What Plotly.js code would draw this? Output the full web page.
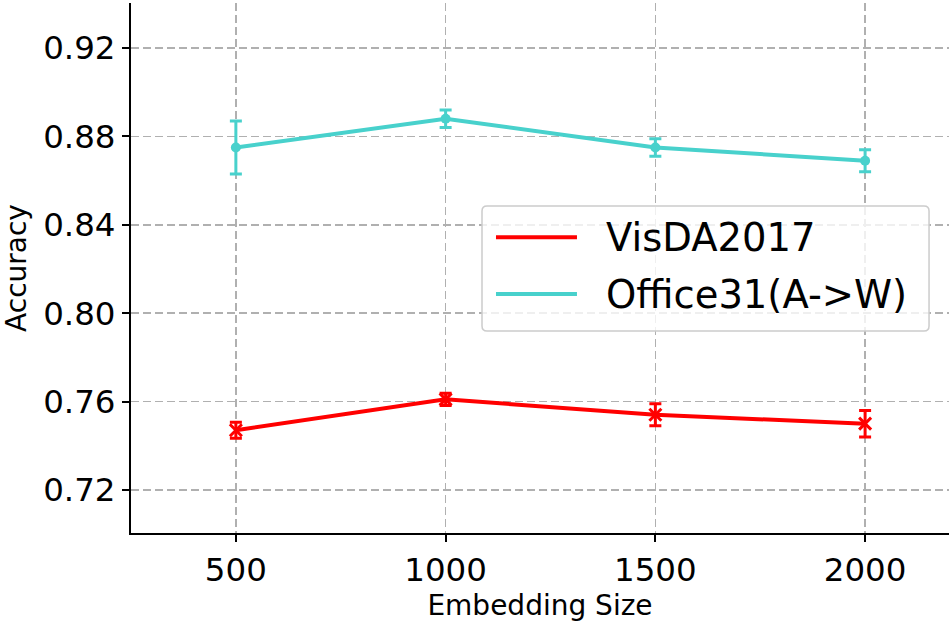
<!DOCTYPE html>
<html>
<head>
<meta charset="utf-8">
<script src="https://cdn.plot.ly/plotly-3.0.1.min.js"></script>
<style>html,body{margin:0;padding:0;background:#fff;}#chart{width:952px;height:622px;}</style>
</head>
<body>
<div id="chart"></div>
<script>
const embeddingSizes = [500, 1000, 1500, 2000];
const visdaAcc = [0.747, 0.761, 0.754, 0.750];
const visdaErr = [0.0036, 0.0028, 0.005, 0.006];
const officeAcc = [0.875, 0.888, 0.875, 0.869];
const officeErr = [0.012, 0.004, 0.004, 0.005];
const seriesNames = ['VisDA2017', 'Office31(A->W)'];
const yTicks = [0.72, 0.76, 0.80, 0.84, 0.88, 0.92];
const xTicks = [500, 1000, 1500, 2000];

const RED = '#ff0000';
const CYAN = '#48d1cc';
const FONT = 'DejaVu Sans, sans-serif';

const traces = [
  {
    x: embeddingSizes, y: visdaAcc, name: seriesNames[0], type: 'scatter', mode: 'lines+markers',
    line: {color: RED, width: 4},
    marker: {symbol: 'x-thin', size: 12, color: RED, line: {color: RED, width: 3}},
    error_y: {type: 'data', array: visdaErr, visible: true, color: RED, thickness: 3, width: 6},
    showlegend: false
  },
  {
    x: embeddingSizes, y: officeAcc, name: seriesNames[1], type: 'scatter', mode: 'lines+markers',
    line: {color: CYAN, width: 4},
    marker: {symbol: 'circle', size: 10, color: CYAN},
    error_y: {type: 'data', array: officeErr, visible: true, color: CYAN, thickness: 3, width: 6},
    showlegend: false
  }
];

// manual legend box (paper coords)
const lx0 = 0.4291, lx1 = 0.9756, ly0 = 0.3811, ly1 = 0.617;
const rx = 5 / 818, ry = 5 / 530;
const boxPath = `M ${lx0 + rx},${ly0} L ${lx1 - rx},${ly0} Q ${lx1},${ly0} ${lx1},${ly0 + ry} L ${lx1},${ly1 - ry} Q ${lx1},${ly1} ${lx1 - rx},${ly1} L ${lx0 + rx},${ly1} Q ${lx0},${ly1} ${lx0},${ly1 - ry} L ${lx0},${ly0 + ry} Q ${lx0},${ly0} ${lx0 + rx},${ly0} Z`;
const legendYs = [0.558, 0.4509];
const legendColors = [RED, CYAN];

const shapes = [
  {type: 'path', xref: 'paper', yref: 'paper', path: boxPath, fillcolor: 'rgba(255,255,255,0.8)', line: {color: '#cccccc', width: 1.5}, layer: 'above'}
];
const annotations = [];
seriesNames.forEach((n, i) => {
  shapes.push({type: 'line', xref: 'paper', yref: 'paper', x0: 0.4462, x1: 0.5452, y0: legendYs[i], y1: legendYs[i], line: {color: legendColors[i], width: 4}, layer: 'above'});
  annotations.push({xref: 'paper', yref: 'paper', x: 0.5785, y: legendYs[i], xanchor: 'left', yanchor: 'middle', text: n, showarrow: false, font: {family: FONT, size: 38.5, color: '#000'}});
});

const layout = {
  width: 952, height: 622,
  margin: {l: 131, r: 3, t: 3, b: 89, pad: 0},
  paper_bgcolor: '#fff', plot_bgcolor: '#fff',
  font: {family: FONT, color: '#000'},
  showlegend: false,
  xaxis: {
    range: [250, 2200], tickvals: xTicks, ticktext: xTicks.map(String),
    showline: true, linecolor: '#000', linewidth: 2, mirror: false,
    ticks: 'outside', ticklen: 7, tickwidth: 2, tickcolor: '#000',
    tickfont: {family: FONT, size: 32.5, color: '#000'},
    showgrid: true, gridcolor: '#b0b0b0', gridwidth: 1.5, griddash: '8px,4px',
    zeroline: false,
    title: {text: 'Embedding Size', font: {family: FONT, size: 28, color: '#000'}, standoff: 8}
  },
  yaxis: {
    range: [0.7005, 0.9404], tickvals: yTicks, ticktext: yTicks.map(v => v.toFixed(2)),
    showline: true, linecolor: '#000', linewidth: 2, mirror: false,
    ticks: 'outside', ticklen: 7, tickwidth: 2, tickcolor: '#000',
    tickfont: {family: FONT, size: 32.5, color: '#000'},
    showgrid: true, gridcolor: '#b0b0b0', gridwidth: 1.5, griddash: '8px,4px',
    zeroline: false,
    title: {text: 'Accuracy', font: {family: FONT, size: 28, color: '#000'}, standoff: 18}
  },
  shapes: shapes,
  annotations: annotations
};

Plotly.newPlot('chart', traces, layout, {staticPlot: true, displayModeBar: false});
</script>
</body>
</html>
